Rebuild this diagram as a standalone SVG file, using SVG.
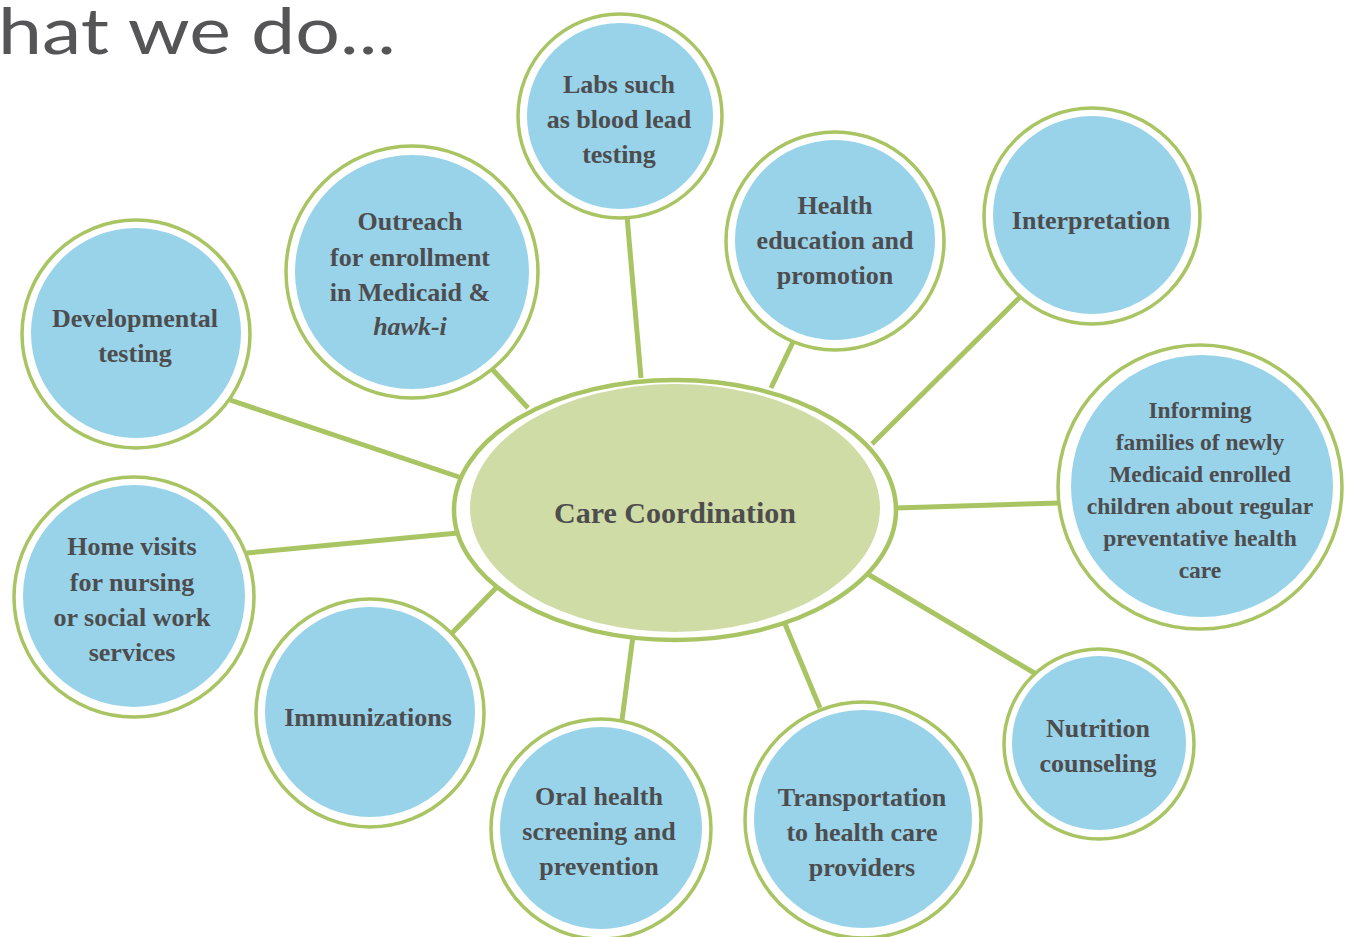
<svg xmlns="http://www.w3.org/2000/svg" width="1345" height="937" viewBox="0 0 1345 937">
<style>
.ring{fill:#ffffff;stroke:#a9c462;stroke-width:3.5}
.blue{fill:#98d3e9}
.conn{stroke:#a9c462;stroke-width:5;fill:none}
.t{font-family:'Liberation Serif','DejaVu Serif',serif;font-weight:bold;font-size:26px;fill:#4d4d4f;text-anchor:middle}
.s{font-size:23.5px}
.title{font-family:Lato,'Open Sans',sans-serif;font-weight:400;font-size:64px;fill:#555557}
</style>
<rect width="1345" height="937" fill="#ffffff"/>
<text class="title" x="-2" y="54" textLength="398" lengthAdjust="spacingAndGlyphs">hat we do...</text>
<g id="connectors">
<line class="conn" x1="230" y1="400" x2="462" y2="478"/>
<line class="conn" x1="493" y1="370" x2="528" y2="408"/>
<line class="conn" x1="627" y1="216" x2="641" y2="378"/>
<line class="conn" x1="793" y1="342" x2="771" y2="388"/>
<line class="conn" x1="1021" y1="296" x2="872" y2="444"/>
<line class="conn" x1="896" y1="508" x2="1059" y2="503"/>
<line class="conn" x1="866" y1="573" x2="1036" y2="674"/>
<line class="conn" x1="785" y1="624" x2="820" y2="708"/>
<line class="conn" x1="633" y1="636" x2="622" y2="720"/>
<line class="conn" x1="497" y1="587" x2="452" y2="633"/>
<line class="conn" x1="247" y1="553" x2="458" y2="533"/>
</g>
<g id="center">
<ellipse cx="675" cy="510" rx="221" ry="130" fill="#ffffff" stroke="#a9c462" stroke-width="4.5"/>
<ellipse cx="675" cy="508" rx="205" ry="124" fill="#cfdca5"/>
<text class="t" x="675" y="523" style="font-size:30px">Care Coordination</text>
</g>
<g id="labs">
<circle class="ring" cx="620" cy="116" r="102"/>
<circle class="blue" cx="620" cy="116" r="93"/>
<text class="t" x="619" y="93">Labs such</text>
<text class="t" x="619" y="128">as blood lead</text>
<text class="t" x="619" y="163">testing</text>
</g>
<g id="health">
<circle class="ring" cx="835" cy="241" r="109"/>
<circle class="blue" cx="835" cy="240" r="100"/>
<text class="t" x="835" y="214">Health</text>
<text class="t" x="835" y="249">education and</text>
<text class="t" x="835" y="284">promotion</text>
</g>
<g id="interpretation">
<circle class="ring" cx="1092" cy="216" r="108"/>
<circle class="blue" cx="1092" cy="215" r="99"/>
<text class="t" x="1091" y="229">Interpretation</text>
</g>
<g id="informing">
<circle class="ring" cx="1200" cy="487" r="142"/>
<circle class="blue" cx="1202" cy="486" r="131"/>
<text class="t s" x="1200" y="418">Informing</text>
<text class="t s" x="1200" y="450">families of newly</text>
<text class="t s" x="1200" y="482">Medicaid enrolled</text>
<text class="t s" x="1200" y="514">children about regular</text>
<text class="t s" x="1200" y="546">preventative health</text>
<text class="t s" x="1200" y="578">care</text>
</g>
<g id="nutrition">
<circle class="ring" cx="1099" cy="744" r="95"/>
<circle class="blue" cx="1099" cy="743" r="87"/>
<text class="t" x="1098" y="737">Nutrition</text>
<text class="t" x="1098" y="772">counseling</text>
</g>
<g id="transportation">
<circle class="ring" cx="863" cy="820" r="118"/>
<circle class="blue" cx="863" cy="819" r="109"/>
<text class="t" x="862" y="806">Transportation</text>
<text class="t" x="862" y="841">to health care</text>
<text class="t" x="862" y="876">providers</text>
</g>
<g id="oral">
<circle class="ring" cx="601" cy="829" r="110"/>
<circle class="blue" cx="601" cy="828" r="101"/>
<text class="t" x="599" y="805">Oral health</text>
<text class="t" x="599" y="840">screening and</text>
<text class="t" x="599" y="875">prevention</text>
</g>
<g id="immunizations">
<circle class="ring" cx="370" cy="713" r="114"/>
<circle class="blue" cx="370" cy="712" r="105"/>
<text class="t" x="368" y="726">Immunizations</text>
</g>
<g id="homevisits">
<circle class="ring" cx="134" cy="597" r="120"/>
<circle class="blue" cx="134" cy="596" r="111"/>
<text class="t" x="132" y="555">Home visits</text>
<text class="t" x="132" y="591">for nursing</text>
<text class="t" x="132" y="626">or social work</text>
<text class="t" x="132" y="661">services</text>
</g>
<g id="developmental">
<circle class="ring" cx="136" cy="334" r="114"/>
<circle class="blue" cx="136" cy="333" r="105"/>
<text class="t" x="135" y="327">Developmental</text>
<text class="t" x="135" y="362">testing</text>
</g>
<g id="outreach">
<circle class="ring" cx="412" cy="272" r="126"/>
<circle class="blue" cx="412" cy="272" r="117"/>
<text class="t" x="410" y="230">Outreach</text>
<text class="t" x="410" y="266">for enrollment</text>
<text class="t" x="410" y="301">in Medicaid &amp;</text>
<text class="t" x="410" y="335" font-style="italic">hawk-i</text>
</g>
</svg>
